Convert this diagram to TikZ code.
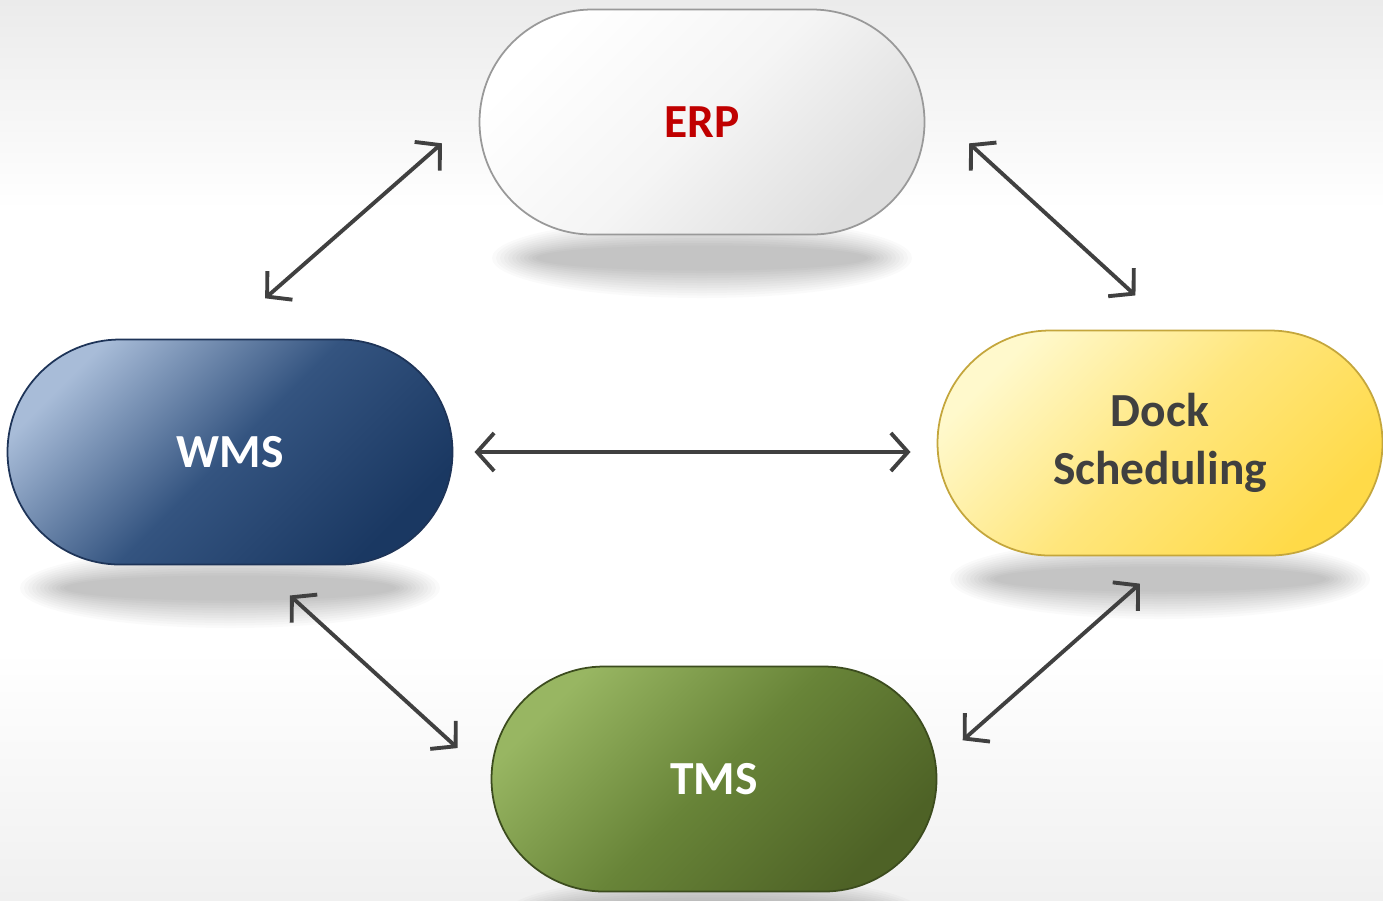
\documentclass[tikz,border=0pt]{standalone}
\usepackage{fontspec}
\setmainfont{Carlito}
\usetikzlibrary{shapes.geometric, arrows.meta, backgrounds}

\definecolor{bgtop}{HTML}{EBEBEB}
\definecolor{bgbottom}{HTML}{F0F0F0}
\definecolor{linkgray}{HTML}{404040}
\definecolor{erpred}{HTML}{C00000}
\definecolor{docktext}{HTML}{404040}

\tikzstyle{pill} = [rectangle, rounded corners=2.25cm,
minimum width=8.9cm,
minimum height=4.5cm,
text centered,
align=center,
outer sep=0pt,
line width=1pt,
font=\fontsize{27}{33}\selectfont\bfseries]
\tikzstyle{erpbox} = [pill, draw=black!40,
top color=white, bottom color=black!13, middle color=black!4, shading angle=45,
text=erpred]
\tikzstyle{wmsbox} = [pill, draw={rgb,255:red,30;green,52;blue,88},
top color={rgb,255:red,168;green,188;blue,216},
bottom color={rgb,255:red,26;green,56;blue,98},
middle color={rgb,255:red,52;green,84;blue,128}, shading angle=45,
text=white]
\tikzstyle{dockbox} = [pill, draw={rgb,255:red,196;green,166;blue,60},
top color={rgb,255:red,255;green,249;blue,204},
bottom color={rgb,255:red,255;green,218;blue,72},
middle color={rgb,255:red,255;green,230;blue,124}, shading angle=45,
text=docktext]
\tikzstyle{tmsbox} = [pill, draw={rgb,255:red,60;green,76;blue,30},
top color={rgb,255:red,152;green,182;blue,98},
bottom color={rgb,255:red,78;green,98;blue,38},
middle color={rgb,255:red,104;green,132;blue,56}, shading angle=45,
text=white]
\tikzstyle{floorshadow} = [fill=black, fill opacity=0.02]
\tikzstyle{arrow} = [line width=2.2pt, draw=linkgray, <->,
>={Straight Barb[length=3.4mm, width=7.6mm]}]

\begin{document}
\begin{tikzpicture}[node distance=6.6cm]
			\useasboundingbox (0,0) rectangle (27.66,-18);
			\clip (0,0) rectangle (27.66,-18);

			\node (erp) [erpbox] at (14.04,-2.44) {ERP};
			\node (wms) [wmsbox, below of=erp, xshift=-9.44cm] {WMS};
			\node (dock) [dockbox, below of=erp, xshift=9.16cm, yshift=0.18cm] {Dock\\Scheduling};
			\node (tms) [tmsbox, below of=wms, xshift=9.68cm, yshift=0.06cm] {TMS};

			\begin{scope}[on background layer]
				% page: grey at the top and bottom, white in between
				\fill[white] (0,0) rectangle (27.66,-18);
				\shade[top color=bgtop, bottom color=white] (0,0) rectangle (27.66,-4.2);
				\shade[top color=white, bottom color=bgbottom] (0,-13) rectangle (27.66,-18);
				\foreach \n in {erp, wms, dock, tms}
					\foreach \k in {0,...,11}
						\fill[floorshadow] ([yshift=-2.72cm]\n.center) ellipse ({4.2cm-\k*0.08cm} and {0.8cm-\k*0.05cm});
			\end{scope}

			\draw[arrow, shorten <=1cm, shorten >=1.25cm] (erp.177) -- (wms.96);
			\draw[arrow, shorten <=1.21cm, shorten >=1.04cm] (erp.5) -- (dock.83);
			\draw[arrow, shorten <=0.44cm, shorten >=0.54cm] (wms.east) -- (wms.east -| dock.west);
			\draw[arrow, shorten <=0.92cm, shorten >=0.92cm] (wms.-77) -- (tms.west);
			\draw[arrow, shorten <=0.85cm, shorten >=0.7cm] (dock.-84) -- (tms.4);
		\end{tikzpicture}
\end{document}
